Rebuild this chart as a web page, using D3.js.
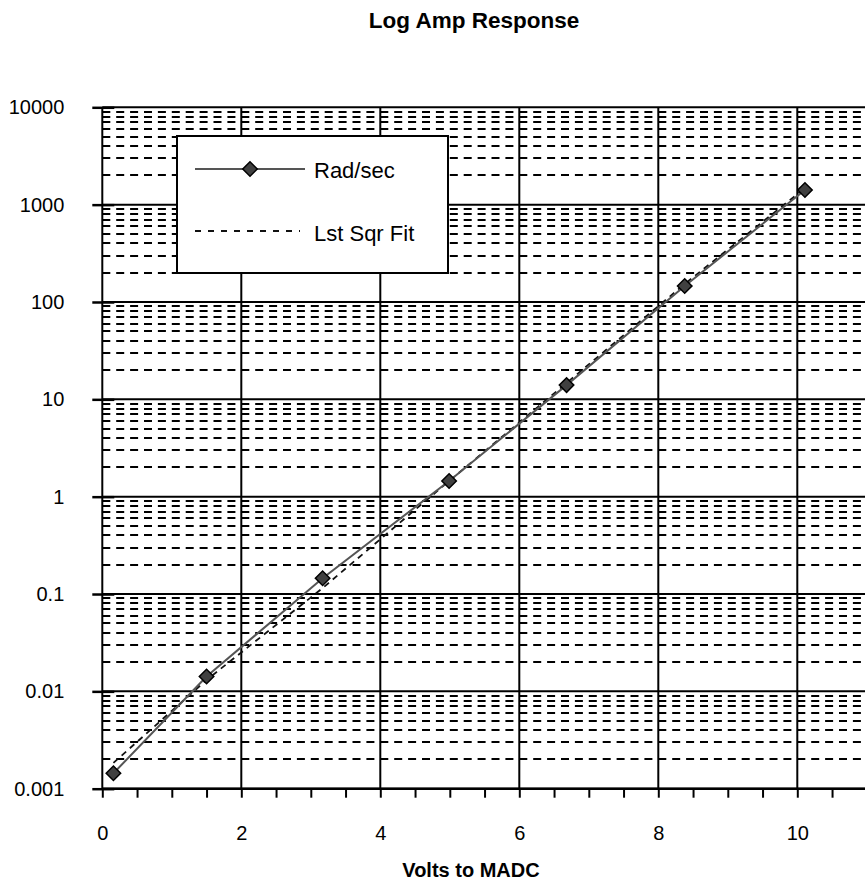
<!DOCTYPE html>
<html>
<head>
<meta charset="utf-8">
<script src="https://cdn.jsdelivr.net/npm/d3@7"></script>
<style>
  body { margin: 0; background: #fff; }
  svg text { font-family: "Liberation Sans", Arial, sans-serif; fill: #000; }
</style>
</head>
<body>
<div id="chart"></div>
<script>
// Log amp response, semi-log plot
const volts = [0.16, 1.5, 3.17, 4.99, 6.68, 8.38, 10.11];
const radSec = [0.00144, 0.0142, 0.145, 1.45, 14.0, 146, 1415];
const fitVolts = [0.16, 1.5, 3.17, 4.99, 6.68, 8.38, 10.11];
const fitRadSec = [0.00184, 0.0131, 0.115, 1.45, 14.7, 153, 1480];
const decades = [0.001, 0.01, 0.1, 1, 10, 100, 1000, 10000];
const decadeLabels = ["0.001", "0.01", "0.1", "1", "10", "100", "1000", "10000"];
const xMajor = [0, 2, 4, 6, 8, 10];
const seriesNames = ["Rad/sec", "Lst Sqr Fit"];

const width = 865, height = 880;
const svg = d3.select("#chart").append("svg")
    .attr("width", width).attr("height", height);

// plot area runs past the right edge of the picture (chart is cropped)
const x = d3.scaleLinear().domain([0, 12]).range([102.3, 102.3 + 12 * 69.5]);
const y = d3.scaleLog().domain([0.001, 10000]).range([788.7, 107.3]);
const right = width;

// minor horizontal grid (dashed)
const minors = [];
decades.slice(0, -1).forEach(d => { for (let k = 2; k <= 9; k++) minors.push(d * k); });
svg.append("g").selectAll("line").data(minors).enter().append("line")
    .attr("x1", x(0)).attr("x2", right)
    .attr("y1", d => Math.round(y(d))).attr("y2", d => Math.round(y(d)))
    .attr("stroke", "#000").attr("stroke-width", 2)
    .attr("stroke-dasharray", "8,5.9");

// major grid
svg.append("g").selectAll("line").data(decades).enter().append("line")
    .attr("x1", x(0)).attr("x2", right)
    .attr("y1", d => y(d)).attr("y2", d => y(d))
    .attr("stroke", "#000").attr("stroke-width", 2);
svg.append("g").selectAll("line").data(xMajor.slice(1).concat([12])).enter().append("line")
    .attr("x1", d => x(d)).attr("x2", d => x(d))
    .attr("y1", y(10000)).attr("y2", y(0.001))
    .attr("stroke", "#000").attr("stroke-width", 2);

// axes
const xMinorAxis = d3.axisBottom(x).tickValues(d3.range(0, 12.01, 0.5))
    .tickSize(9).tickFormat("");
svg.append("g").attr("transform", "translate(0," + y(0.001) + ")").call(xMinorAxis)
    .call(g => g.select(".domain").remove())
    .selectAll("line").attr("stroke", "#000").attr("stroke-width", 2);
const xAxis = d3.axisBottom(x).tickValues(xMajor).tickSize(0).tickPadding(37)
    .tickFormat(d3.format("d"));
svg.append("g").attr("transform", "translate(0," + y(0.001) + ")").call(xAxis)
    .call(g => g.select(".domain").remove())
    .selectAll("text").style("font-size", "20px").style("font-family", "Liberation Sans, Arial, sans-serif");

const yAxis = d3.axisLeft(y).tickValues(decades).tickSize(10).tickPadding(28)
    .tickFormat((d, i) => decadeLabels[i]);
svg.append("g").attr("transform", "translate(" + x(0) + ",0)").call(yAxis)
    .call(g => g.select(".domain").attr("stroke-width", 2).attr("d", "M0," + y(10000) + "V" + y(0.001)))
    .call(g => g.selectAll(".tick line").attr("x2", 12).attr("x1", -10).attr("stroke-width", 2.5))
    .selectAll("text").style("font-size", "20px").style("font-family", "Liberation Sans, Arial, sans-serif");
svg.append("line").attr("x1", x(0)).attr("x2", right).attr("y1", y(0.001)).attr("y2", y(0.001))
    .attr("stroke", "#000").attr("stroke-width", 2.5);

// series
const dataPts = volts.map((v, i) => [v, radSec[i]]);
const fitPts = fitVolts.map((v, i) => [v, fitRadSec[i]]);
const line = d3.line().x(d => x(d[0])).y(d => y(d[1]));
svg.append("path").datum(fitPts).attr("d", line)
    .attr("fill", "none").attr("stroke", "#111").attr("stroke-width", 1.8)
    .attr("stroke-dasharray", "6,5");
svg.append("path").datum(dataPts).attr("d", line)
    .attr("fill", "none").attr("stroke", "#555").attr("stroke-width", 2);
const diamond = d3.symbol().type(d3.symbolSquare).size(105);
svg.append("g").selectAll("path").data(dataPts).enter().append("path")
    .attr("d", diamond)
    .attr("transform", d => "translate(" + x(d[0]) + "," + y(d[1]) + ") rotate(45)")
    .attr("fill", "#404040").attr("stroke", "#000").attr("stroke-width", 1.5);

// legend
const lg = svg.append("g");
lg.append("rect").attr("x", 177).attr("y", 136).attr("width", 271).attr("height", 137)
    .attr("fill", "#fff").attr("stroke", "#000").attr("stroke-width", 2);
lg.append("line").attr("x1", 195).attr("x2", 305).attr("y1", 169).attr("y2", 169)
    .attr("stroke", "#555").attr("stroke-width", 2);
lg.append("path").attr("d", diamond).attr("transform", "translate(250,169) rotate(45)")
    .attr("fill", "#404040").attr("stroke", "#000").attr("stroke-width", 1.5);
lg.append("line").attr("x1", 195).attr("x2", 300).attr("y1", 231).attr("y2", 231)
    .attr("stroke", "#111").attr("stroke-width", 1.8).attr("stroke-dasharray", "6,7");
lg.selectAll("text.lbl").data(seriesNames).enter().append("text").attr("class", "lbl")
    .attr("x", 314).attr("y", (d, i) => 178 + i * 63)
    .style("font-size", "22px").text(d => d);

// titles
svg.append("text").attr("x", 474).attr("y", 28).attr("text-anchor", "middle")
    .style("font-size", "22.5px").style("font-weight", "bold").text("Log Amp Response");
svg.append("text").attr("x", 471).attr("y", 877).attr("text-anchor", "middle")
    .style("font-size", "20px").style("font-weight", "bold").text("Volts to MADC");
</script>
</body>
</html>
